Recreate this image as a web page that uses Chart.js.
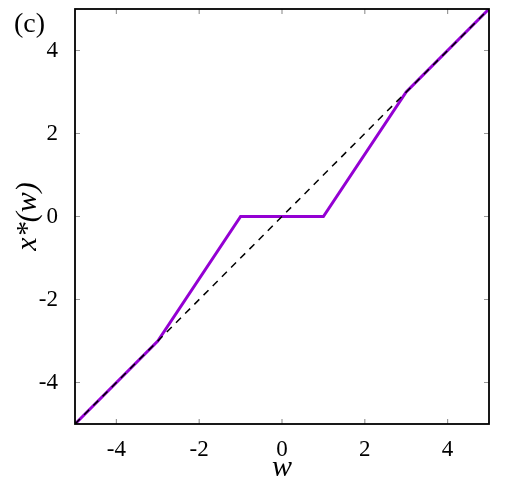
<!DOCTYPE html>
<html>
<head>
<meta charset="utf-8">
<script src="https://cdn.jsdelivr.net/npm/chart.js@4.4.0/dist/chart.umd.min.js"></script>
<style>
  html, body { margin: 0; padding: 0; background: #fff; }
  #wrap { width: 505px; height: 492px; }
</style>
</head>
<body>
<div id="wrap"><canvas id="plot"></canvas></div>
<script>
// values
var wKnots = [-5, -3, -1, 1, 3, 5];
var xStarKnots = [-5, -3, 0, 0, 3, 5];
var diagW = [-5, 5];
var diagX = [-5, 5];
var tickVals = [-4, -2, 0, 2, 4];

function toPoints(xs, ys) {
    var pts = [];
    for (var i = 0; i < xs.length; i++) {
        pts.push({ x: xs[i], y: ys[i] });
    }
    return pts;
}

var serif = "Liberation Serif, DejaVu Serif, serif";
Chart.defaults.font.family = serif;

// box + inward ticks on all four sides, plus the panel label
var framePlugin = {
    id: 'frame',
    afterDraw: function (chart) {
        var ctx = chart.ctx;
        var a = chart.chartArea;
        var xs = chart.scales.x, ys = chart.scales.y;
        ctx.save();
        ctx.strokeStyle = '#999';
        ctx.lineWidth = 1.2;
        var len = 5;
        tickVals.forEach(function (v) {
            var px = xs.getPixelForValue(v);
            ctx.beginPath();
            ctx.moveTo(px, a.bottom); ctx.lineTo(px, a.bottom - len);
            ctx.moveTo(px, a.top); ctx.lineTo(px, a.top + len);
            ctx.stroke();
            var py = ys.getPixelForValue(v);
            ctx.beginPath();
            ctx.moveTo(a.left, py); ctx.lineTo(a.left + len, py);
            ctx.moveTo(a.right, py); ctx.lineTo(a.right - len, py);
            ctx.stroke();
        });
        ctx.strokeStyle = '#000';
        ctx.lineWidth = 1.8;
        ctx.strokeRect(a.left, a.top, a.right - a.left, a.bottom - a.top);

        ctx.fillStyle = '#000';
        ctx.font = '28px ' + serif;
        ctx.textBaseline = 'alphabetic';
        ctx.fillText('(c)', 14, 32);
        ctx.restore();
    }
};

new Chart(document.getElementById('plot').getContext('2d'), {
    type: 'scatter',
    data: {
        datasets: [
            {
                data: toPoints(diagW, diagX),
                showLine: true,
                borderColor: '#000',
                borderWidth: 1.5,
                borderDash: [7, 6],
                pointRadius: 0,
                order: 0
            },
            {
                data: toPoints(wKnots, xStarKnots),
                showLine: true,
                borderColor: '#9400D3',
                borderWidth: 3,
                pointRadius: 0,
                order: 1
            }
        ]
    },
    options: {
        responsive: true,
        maintainAspectRatio: false,
        animation: false,
        layout: { padding: { left: 0, top: 9, right: 16, bottom: 0 } },
        plugins: {
            legend: { display: false },
            tooltip: { enabled: false }
        },
        scales: {
            x: {
                type: 'linear',
                min: -5,
                max: 5,
                afterBuildTicks: function (scale) {
                    scale.ticks = tickVals.map(function (v) { return { value: v }; });
                },
                afterFit: function (scale) {
                    scale.height = 68;
                    scale.paddingLeft = 0;
                    scale.paddingRight = 0;
                },
                grid: { display: false, drawTicks: false },
                border: { display: false },
                ticks: {
                    padding: 12,
                    color: '#000',
                    maxRotation: 0,
                    font: { family: serif, size: 23 }
                },
                title: {
                    display: true,
                    text: 'w',
                    color: '#000',
                    padding: { top: 0, bottom: 6 },
                    font: { family: serif, size: 30, style: 'italic' }
                }
            },
            y: {
                type: 'linear',
                min: -5,
                max: 5,
                afterBuildTicks: function (scale) {
                    scale.ticks = tickVals.map(function (v) { return { value: v }; });
                },
                afterFit: function (scale) {
                    scale.width = 75;
                    scale.paddingTop = 0;
                    scale.paddingBottom = 0;
                },
                grid: { display: false, drawTicks: false },
                border: { display: false },
                ticks: {
                    padding: 17,
                    color: '#000',
                    font: { family: serif, size: 23 }
                },
                title: {
                    display: true,
                    text: 'x*(w)',
                    color: '#000',
                    padding: { top: 10, bottom: 0 },
                    font: { family: serif, size: 30, style: 'italic' }
                }
            }
        }
    },
    plugins: [framePlugin]
});
</script>
</body>
</html>
